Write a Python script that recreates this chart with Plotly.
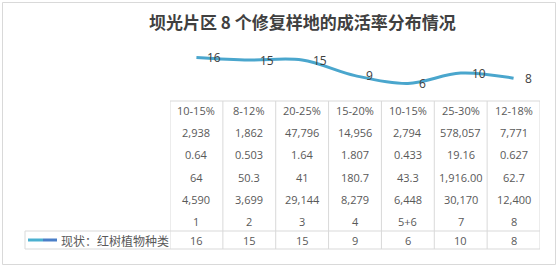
import plotly.graph_objects as go

W, H = 558, 266

title = "坝光片区 8 个修复样地的成活率分布情况"
rates = ["10-15%", "8-12%", "20-25%", "15-20%", "10-15%", "25-30%", "12-18%"]
row2 = ["2,938", "1,862", "47,796", "14,956", "2,794", "578,057", "7,771"]
row3 = ["0.64", "0.503", "1.64", "1.807", "0.433", "19.16", "0.627"]
row4 = ["64", "50.3", "41", "180.7", "43.3", "1,916.00", "62.7"]
row5 = ["4,590", "3,699", "29,144", "8,279", "6,448", "30,170", "12,400"]
plot_ids = ["1", "2", "3", "4", "5+6", "7", "8"]
series_name = "现状：红树植物种类"
species = [16, 15, 15, 9, 6, 10, 8]

xs = list(range(len(species)))

def py(p):  # pixel-from-top -> paper y
    return (H - p) / H

def px(p):
    return p / W

GRID = "#D9D9D9"
TXT = "#595959"
FONT = "Open Sans, Noto Sans CJK SC, sans-serif"

fig = go.Figure()
fig.add_trace(go.Scatter(
    x=xs, y=species, mode="lines",
    line=dict(color="#4AA6CD", width=3, shape="spline", smoothing=1.0),
    showlegend=False, hoverinfo="skip",
))

annotations = []
# data labels
for x, v in zip(xs, species):
    annotations.append(dict(x=x, y=v, xref="x", yref="y", text=str(v),
                            showarrow=False, xanchor="left", yanchor="middle",
                            xshift=9, font=dict(family=FONT, size=12, color="#404040")))

# table text rows
rows = [(rates, 110), (row2, 132), (row3, 154), (row4, 177), (row5, 199),
        (plot_ids, 221), ([str(v) for v in species], 240)]
for vals, ypix in rows:
    for x, t in zip(xs, vals):
        annotations.append(dict(x=x, y=py(ypix), xref="x", yref="paper", text=t,
                                showarrow=False, xanchor="center", yanchor="middle",
                                font=dict(family=FONT, size=11, color=TXT)))

# legend text
annotations.append(dict(x=px(59), y=py(240), xref="paper", yref="paper", text=series_name,
                        showarrow=False, xanchor="left", yanchor="middle",
                        font=dict(family="Noto Sans CJK SC, sans-serif", size=12, color=TXT)))

# title
annotations.append(dict(x=px(302), y=py(21), xref="paper", yref="paper", text="<b>" + title + "</b>",
                        showarrow=False, xanchor="center", yanchor="middle",
                        font=dict(family="Noto Sans CJK SC, sans-serif", size=17, color="#404040")))

shapes = []
# outer border
shapes.append(dict(type="rect", xref="paper", yref="paper", x0=px(2.5), x1=px(555.5),
                   y0=py(264.5), y1=py(2.5), line=dict(color=GRID, width=1)))
# table top line
shapes.append(dict(type="line", xref="x", yref="paper", x0=-0.5, x1=len(xs) - 0.5,
                   y0=py(101), y1=py(101), line=dict(color=GRID, width=1)))
# vertical column lines
for k in range(len(xs) + 1):
    shapes.append(dict(type="line", xref="x", yref="paper", x0=k - 0.5, x1=k - 0.5,
                       y0=py(101), y1=py(249), line=dict(color=GRID, width=1)))
# legend row horizontal lines
for ypix in (231, 249):
    shapes.append(dict(type="line", xref="paper", yref="paper", x0=px(25), x1=px(540),
                       y0=py(ypix), y1=py(ypix), line=dict(color=GRID, width=1)))
shapes.append(dict(type="line", xref="paper", yref="paper", x0=px(25), x1=px(25),
                   y0=py(231), y1=py(249), line=dict(color=GRID, width=1)))
# legend key
shapes.append(dict(type="line", xref="paper", yref="paper", x0=px(28), x1=px(43),
                   y0=py(240), y1=py(240), line=dict(color="#4BB0D0", width=3)))
shapes.append(dict(type="line", xref="paper", yref="paper", x0=px(43), x1=px(57),
                   y0=py(240), y1=py(240), line=dict(color="#4A7FC8", width=3)))

fig.update_layout(
    width=W, height=H,
    margin=dict(l=0, r=0, t=0, b=0),
    paper_bgcolor="white", plot_bgcolor="white",
    xaxis=dict(domain=[px(170), px(540)], range=[-0.5, len(xs) - 0.5],
               visible=False, fixedrange=True),
    yaxis=dict(domain=[py(99), py(34)], range=[0, 25], visible=False, fixedrange=True),
    annotations=annotations, shapes=shapes, showlegend=False,
)

fig.write_html("out.html")
